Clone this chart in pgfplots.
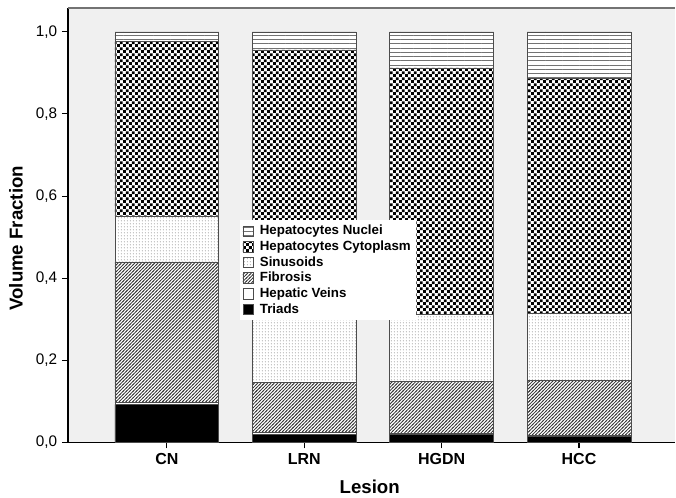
\documentclass[border=0pt]{standalone}
\usepackage{fontspec}
\setmainfont{Liberation Sans}
\usepackage{pgfplots}
\pgfplotsset{compat=1.18}
\usetikzlibrary{patterns}
\definecolor{plotbg}{HTML}{F0F0F0}
\pgfdeclarepatternformonly{hlinesfine}{\pgfqpoint{-0.1pt}{-0.1pt}}{\pgfqpoint{3.3pt}{3.2pt}}{\pgfqpoint{3.2pt}{3.2pt}}{%
  \pgfsetlinewidth{0.7pt}\pgfpathmoveto{\pgfqpoint{-0.1pt}{1.6pt}}\pgfpathlineto{\pgfqpoint{3.3pt}{1.6pt}}\pgfusepath{stroke}}
\pgfdeclarepatternformonly{checker}{\pgfpointorigin}{\pgfqpoint{4.4pt}{4.4pt}}{\pgfqpoint{4.4pt}{4.4pt}}{%
  \pgfpathrectangle{\pgfpointorigin}{\pgfqpoint{2.2pt}{2.2pt}}\pgfpathrectangle{\pgfqpoint{2.2pt}{2.2pt}}{\pgfqpoint{2.2pt}{2.2pt}}\pgfusepath{fill}}
\pgfdeclarepatternformonly{finedots}{\pgfpointorigin}{\pgfqpoint{2.2pt}{2pt}}{\pgfqpoint{2.2pt}{2pt}}{%
  \pgfpathcircle{\pgfqpoint{1.1pt}{1pt}}{0.4pt}\pgfusepath{fill}}
\pgfdeclarepatternformonly{fineneline}{\pgfqpoint{-1pt}{-1pt}}{\pgfqpoint{3.5pt}{3.5pt}}{\pgfqpoint{2.5pt}{2.5pt}}{%
  \pgfsetlinewidth{0.55pt}\pgfpathmoveto{\pgfqpoint{-0.5pt}{-0.5pt}}\pgfpathlineto{\pgfqpoint{3pt}{3pt}}\pgfusepath{stroke}}
\begin{document}
\begin{tikzpicture}
\begin{axis}[
  scale only axis,
  width=456pt, height=326.25pt,
  xmin=-0.72, xmax=3.70,
  ymin=0, ymax=1.058,
  ybar stacked,
  bar width=0.756,
  axis background/.style={fill=plotbg},
  axis x line*=bottom, axis y line*=left,
  axis line style={black, line width=1pt},
  xtick={0,1,2,3},
  xticklabels={CN,LRN,HGDN,HCC},
  xticklabel style={font=\bfseries\fontsize{12}{14}\selectfont},
  ytick={0,0.2,0.4,0.6,0.8,1.0},
  yticklabel style={font=\fontsize{11.5}{13}\selectfont},
  /pgf/number format/assume math mode=true,
  /pgf/number format/use comma,
  /pgf/number format/fixed,
  /pgf/number format/fixed zerofill,
  /pgf/number format/precision=1,
  tick style={black, line width=0.8pt},
  tick align=outside,
  major tick length=4.5pt,
  xlabel={Lesion},
  ylabel={Volume Fraction},
  label style={font=\bfseries\fontsize{14}{16}\selectfont},
  xlabel style={at={(axis description cs:0.497,-0.101)}, anchor=center},
  ylabel style={at={(axis description cs:-0.0855,0.47)}, anchor=center},
  clip=false,
  legend style={at={(0.283,0.513)}, anchor=north west, draw=none, fill=white,
    font=\bfseries\fontsize{10}{11}\selectfont, inner sep=2pt, row sep=-1pt,
    cells={anchor=west}},
  legend image code/.code={\draw[#1] (0pt,-3.9pt) rectangle (7.8pt,3.9pt); \path (10.5pt,0pt);},
  reverse legend,
]
\addplot[draw=black!70, fill=black] coordinates {(0,0.093) (1,0.020) (2,0.020) (3,0.015)};
\addlegendentry{Triads}
\addplot[draw=black!70, fill=white] coordinates {(0,0.004) (1,0.004) (2,0.002) (3,0.002)};
\addlegendentry{Hepatic Veins}
\addplot[draw=black!70, fill=white, postaction={pattern=fineneline, pattern color=black!80}] coordinates {(0,0.343) (1,0.122) (2,0.126) (3,0.135)};
\addlegendentry{Fibrosis}
\addplot[draw=black!70, fill=white, postaction={pattern=finedots, pattern color=black!45}] coordinates {(0,0.112) (1,0.165) (2,0.164) (3,0.163)};
\addlegendentry{Sinusoids}
\addplot[draw=black!70, fill=white, postaction={pattern=checker, pattern color=black}] coordinates {(0,0.424) (1,0.645) (2,0.600) (3,0.571)};
\addlegendentry{Hepatocytes Cytoplasm}
\addplot[draw=black!70, fill=white, postaction={pattern=hlinesfine, pattern color=black!55}] coordinates {(0,0.024) (1,0.044) (2,0.088) (3,0.114)};
\addlegendentry{Hepatocytes Nuclei}
\draw[black!55, line width=1.2pt] (rel axis cs:0,1) -- (rel axis cs:1,1);
\path (rel axis cs:-0.1118,-0.1264) rectangle (rel axis cs:1,1.0184);
\end{axis}
\end{tikzpicture}
\end{document}
